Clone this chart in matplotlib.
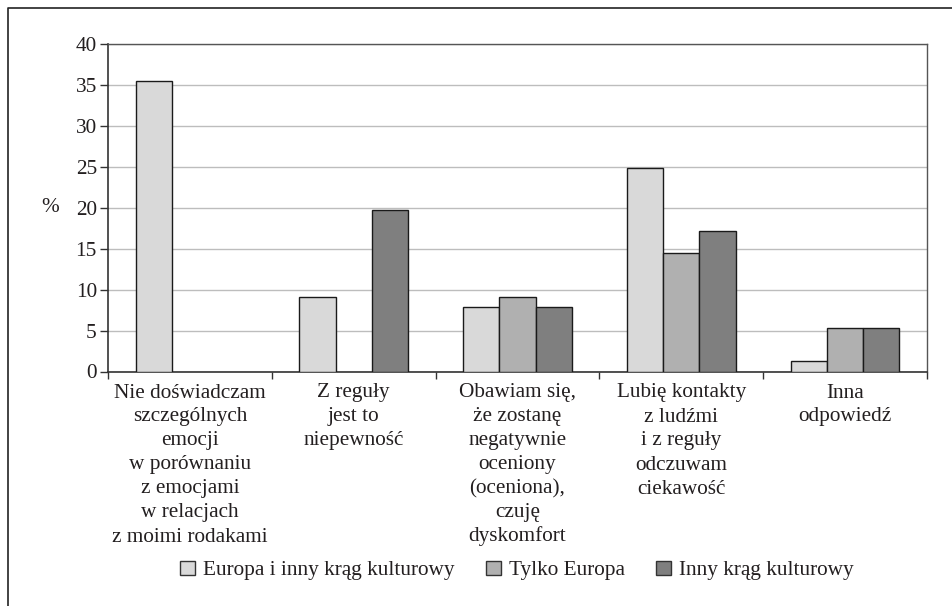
import numpy as np
import matplotlib
matplotlib.use('Agg')
import matplotlib.pyplot as plt
import matplotlib.transforms as mtransforms
from matplotlib.patches import Patch
from matplotlib.lines import Line2D

plt.rcParams['font.family'] = ['Liberation Serif', 'DejaVu Serif']

# Data
categories = [
    'Nie doświadczam\nszczególnych\nemocji\nw porównaniu\nz emocjami\nw relacjach\nz moimi rodakami',
    'Z reguły\njest to\nniepewność',
    'Obawiam się,\nże zostanę\nnegatywnie\noceniony\n(oceniona),\nczuję\ndyskomfort',
    'Lubię kontakty\nz ludźmi\ni z reguły\nodczuwam\nciekawość',
    'Inna\nodpowiedź',
]
series_names = ['Europa i inny krąg kulturowy', 'Tylko Europa', 'Inny krąg kulturowy']
europa_inny = [35.5, 9.1, 7.9, 24.9, 1.3]
tylko_europa = [np.nan, np.nan, 9.1, 14.5, 5.3]
inny_krag = [np.nan, 19.7, 7.9, 17.2, 5.3]
yticks = [0, 5, 10, 15, 20, 25, 30, 35, 40]

colors = ['#d9d9d9', '#b0b0b0', '#7f7f7f']
text_color = '#231f20'
fs = 15.3
W, H = 953, 606

fig = plt.figure(figsize=(W / 100, H / 100), dpi=100)
ax = fig.add_axes([108 / W, 1 - 371.5 / H, (927 - 108) / W, (371.5 - 44) / H])

x = np.arange(len(categories))
w = 0.221
for i, (vals, c) in enumerate(zip([europa_inny, tylko_europa, inny_krag], colors)):
    ax.bar(x + (i - 1) * w, vals, width=w, color=c, edgecolor='#1a1a1a',
           linewidth=1.0, zorder=3)

ax.set_xlim(-0.5, len(categories) - 0.5)
ax.set_ylim(0, 40)
ax.set_yticks(yticks)
ax.yaxis.grid(True, color='#bdbdbd', linewidth=1.0, zorder=0)
ax.set_axisbelow(True)

# category boundaries as ticks, labels written line by line below
ax.set_xticks(np.arange(len(categories) + 1) - 0.5)
ax.set_xticklabels([])
ax.tick_params(axis='x', length=5, width=1, color='#333333', direction='out')
ax.tick_params(axis='y', length=6, width=1, color='#333333', labelsize=fs,
               labelcolor=text_color, pad=2)

trans = mtransforms.blended_transform_factory(ax.transData, fig.transFigure)
for i, lab in enumerate(categories):
    for j, line in enumerate(lab.split('\n')):
        ax.text(i, 1 - (397.5 + 24 * j) / H, line, transform=trans, ha='center',
                va='baseline', fontsize=fs, color=text_color, clip_on=False)

for s in ['left', 'bottom']:
    ax.spines[s].set_color('#333333')
    ax.spines[s].set_linewidth(1.2)
for s in ['top', 'right']:
    ax.spines[s].set_color('#555555')
    ax.spines[s].set_linewidth(1.0)

ax.set_ylabel('%', rotation=0, fontsize=fs, color=text_color, va='center', ha='center')
ax.yaxis.set_label_coords(-0.071, 0.5)

handles = [Patch(facecolor=c, edgecolor='#333333', linewidth=1.0) for c in colors]
fig.legend(handles, series_names, loc='center', bbox_to_anchor=(0.5425, 1 - 570.5 / H),
           ncol=3, frameon=False, fontsize=fs, handlelength=0.7, handleheight=0.7,
           handletextpad=0.4, columnspacing=1.45, labelcolor=text_color)

# outer frame (cropped on right and bottom)
fig.add_artist(Line2D([8 / W, 8 / W, 1.0], [0.0, 1 - 8 / H, 1 - 8 / H],
                      transform=fig.transFigure, color='#222222', linewidth=1.2))

fig.savefig('out.png', dpi=100)
